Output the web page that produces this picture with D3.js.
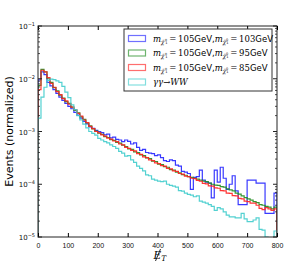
<!DOCTYPE html>
<html>
<head>
<meta charset="utf-8">
<script src="https://cdn.jsdelivr.net/npm/d3@7"></script>
<style>
  body { margin: 0; background: #fff; }
  svg { display: block; }
</style>
</head>
<body>
<div id="chart"></div>
<script>
// bin width 10 GeV, 0..800
const binWidth = 10;

const mass103 = [9.5e-3, 1.35e-2, 1.2e-2, 8.5e-3, 7.3e-3, 6.2e-3, 5.3e-3, 4.5e-3, 3.9e-3, 3.4e-3,
  3.0e-3, 2.7e-3, 2.3e-3, 2.05e-3, 1.8e-3, 1.55e-3, 1.4e-3, 1.22e-3, 1.15e-3, 1.05e-3,
  1.0e-3, 9.5e-4, 8.6e-4, 8.9e-4, 7.6e-4, 7.8e-4, 7.1e-4, 6.9e-4, 6.4e-4, 6.9e-4,
  6.5e-4, 5.8e-4, 6.1e-4, 5.0e-4, 4.4e-4, 4.6e-4, 4.0e-4, 3.9e-4, 3.8e-4, 3.5e-4,
  3.6e-4, 3.2e-4, 2.8e-4, 2.7e-4, 2.9e-4, 2.8e-4, 2.3e-4, 2.2e-4, 1.75e-4, 1.7e-4,
  1.6e-4, 8.0e-5, 1.35e-4, 1.4e-4, 1.85e-4, 1.2e-4, 1.1e-4, 1.05e-4, 5.5e-5, 1.85e-4,
  1.1e-4, 2.1e-4, 1.3e-4, 8.0e-5, 1.0e-4, 1.45e-4, 7.5e-5, 4.1e-5, 4.1e-5, 4.1e-5,
  1.2e-4, 1.2e-4, 1.2e-4, 1.05e-4, 1.05e-4, 1.05e-4, 2.8e-5, 2.8e-5, 2.8e-5, 6.8e-5];

const mass95 = [7.5e-3, 1.5e-2, 1.35e-2, 1.0e-2, 8.5e-3, 6.8e-3, 5.9e-3, 4.9e-3, 4.3e-3, 3.7e-3,
  3.4e-3, 2.9e-3, 2.5e-3, 2.25e-3, 1.9e-3, 1.7e-3, 1.45e-3, 1.28e-3, 1.12e-3, 1.02e-3,
  9.3e-4, 8.8e-4, 8.0e-4, 7.7e-4, 7.0e-4, 6.8e-4, 6.2e-4, 6.0e-4, 5.5e-4, 5.2e-4,
  4.7e-4, 4.6e-4, 4.1e-4, 4.0e-4, 3.6e-4, 3.5e-4, 3.15e-4, 3.05e-4, 2.75e-4, 2.7e-4,
  2.4e-4, 2.35e-4, 2.15e-4, 2.1e-4, 1.9e-4, 1.85e-4, 1.7e-4, 1.65e-4, 1.52e-4, 1.48e-4,
  1.4e-4, 1.35e-4, 1.3e-4, 1.25e-4, 1.2e-4, 1.15e-4, 1.12e-4, 1.05e-4, 1.0e-4, 9.6e-5,
  9.5e-5, 9.0e-5, 8.8e-5, 8.2e-5, 7.8e-5, 7.5e-5, 6.8e-5, 6.5e-5, 6.0e-5, 5.6e-5,
  5.3e-5, 5.0e-5, 4.7e-5, 4.5e-5, 4.1e-5, 4.0e-5, 3.8e-5, 3.7e-5, 3.4e-5, 3.7e-5];

const mass85 = [6.2e-3, 1.45e-2, 1.35e-2, 1.05e-2, 8.2e-3, 6.9e-3, 5.7e-3, 5.0e-3, 4.2e-3, 3.8e-3,
  3.3e-3, 2.9e-3, 2.6e-3, 2.2e-3, 1.95e-3, 1.65e-3, 1.47e-3, 1.25e-3, 1.13e-3, 1.0e-3,
  9.4e-4, 8.6e-4, 8.2e-4, 7.5e-4, 7.2e-4, 6.6e-4, 6.4e-4, 5.8e-4, 5.6e-4, 5.0e-4,
  4.8e-4, 4.4e-4, 4.3e-4, 3.8e-4, 3.7e-4, 3.3e-4, 3.2e-4, 2.9e-4, 2.8e-4, 2.55e-4,
  2.45e-4, 2.25e-4, 2.2e-4, 2.0e-4, 1.95e-4, 1.8e-4, 1.75e-4, 1.6e-4, 1.55e-4, 1.42e-4,
  1.4e-4, 1.3e-4, 1.28e-4, 1.18e-4, 1.14e-4, 1.04e-4, 1.02e-4, 9.3e-5, 9.2e-5, 8.5e-5,
  8.4e-5, 7.6e-5, 7.5e-5, 6.8e-5, 6.7e-5, 6.1e-5, 6.0e-5, 5.4e-5, 5.3e-5, 4.8e-5,
  4.7e-5, 4.4e-5, 4.4e-5, 4.0e-5, 3.5e-5, 3.3e-5, 3.6e-5, 3.4e-5, 3.2e-5, 3.4e-5];

const ggWW = [1.8e-3, 4.5e-3, 6.9e-3, 9.3e-3, 9.8e-3, 9.6e-3, 9.1e-3, 8.5e-3, 7.2e-3, 5.6e-3,
  4.4e-3, 3.2e-3, 2.6e-3, 2.0e-3, 1.66e-3, 1.38e-3, 1.17e-3, 1.0e-3, 9.2e-4, 8.5e-4,
  7.4e-4, 6.9e-4, 6.4e-4, 6.1e-4, 5.6e-4, 5.2e-4, 4.8e-4, 4.2e-4, 3.9e-4, 3.4e-4,
  3.5e-4, 2.9e-4, 2.6e-4, 2.2e-4, 2.0e-4, 1.8e-4, 1.5e-4, 1.45e-4, 1.25e-4, 1.2e-4,
  1.15e-4, 1.12e-4, 1.15e-4, 1.0e-4, 9.5e-5, 9.2e-5, 8.8e-5, 7.6e-5, 7.4e-5, 6.8e-5,
  6.4e-5, 6.2e-5, 5.8e-5, 6.0e-5, 4.8e-5, 4.6e-5, 4.4e-5, 4.1e-5, 3.8e-5, 3.2e-5,
  3.6e-5, 3.4e-5, 3.0e-5, 2.6e-5, 2.4e-5, 2.4e-5, 2.3e-5, 2.3e-5, 2.8e-5, 2.2e-5,
  1.95e-5, 1.95e-5, 2.1e-5, 2.3e-5, 1.4e-5, 1.35e-5, 1.0e-5, 0.8e-5, 0.8e-5, 1.3e-5];

const seriesColors = ["#2323ff", "#1e8c1e", "#ff2020", "#40cccc"];
const legendMasses = ["103", "95", "85"];
const xTicks = [0, 100, 200, 300, 400, 500, 600, 700, 800];
const yExponents = [-5, -4, -3, -2, -1];

const margin = { top: 26, right: 31, bottom: 27, left: 38 },
    width = 308 - margin.left - margin.right,
    height = 264 - margin.top - margin.bottom;

const svg = d3.select("#chart")
    .append("svg")
    .attr("width", 308)
    .attr("height", 264)
    .style("font-family", "'DejaVu Sans', sans-serif");

const g = svg.append("g")
    .attr("transform", `translate(${margin.left}, ${margin.top})`);

const x = d3.scaleLinear().domain([0, 800]).range([0, width]);
const y = d3.scaleLog().domain([1e-5, 1e-1]).range([height, 0]);

g.append("defs").append("clipPath").attr("id", "clip")
    .append("rect").attr("width", width).attr("height", height);

// histograms as step outlines
const line = d3.line()
    .x(d => x(d[0]))
    .y(d => y(Math.max(d[1], 1e-6)))
    .curve(d3.curveStepAfter);

const allSeries = [mass103, mass95, mass85, ggWW];
const plotG = g.append("g").attr("clip-path", "url(#clip)");

allSeries.forEach((vals, i) => {
    const pts = [[0, 1e-6]];
    vals.forEach((v, k) => pts.push([k * binWidth, v]));
    pts.push([vals.length * binWidth, vals[vals.length - 1]]);
    pts.push([vals.length * binWidth, 1e-6]);
    plotG.append("path")
        .attr("d", line(pts))
        .attr("fill", "none")
        .attr("stroke", seriesColors[i])
        .attr("stroke-width", 1.2)
        .attr("stroke-opacity", 0.9);
});

// frame
g.append("rect")
    .attr("width", width).attr("height", height)
    .attr("fill", "none").attr("stroke", "#222").attr("stroke-width", 1);

// x ticks (inward, bottom and top)
const xAxisB = d3.axisBottom(x).tickValues(xTicks).tickSize(-4).tickPadding(6).tickFormat(d3.format("d"));
const xg = g.append("g").attr("transform", `translate(0, ${height})`).call(xAxisB);
xg.select(".domain").remove();
xg.selectAll("text").style("font-size", "7px").attr("fill", "#111");
const xAxisT = d3.axisTop(x).tickValues(xTicks).tickSize(-4).tickFormat("");
const xgt = g.append("g").call(xAxisT);
xgt.select(".domain").remove();

// y ticks, major and minor, left and right
const minor = [];
yExponents.slice(0, -1).forEach(e => {
    for (let m = 2; m <= 9; m++) minor.push(m * Math.pow(10, e));
});
const majors = yExponents.map(e => Math.pow(10, e));

[[0, 1], [width, -1]].forEach(([xx, dir]) => {
    majors.forEach(v => {
        g.append("line").attr("x1", xx).attr("x2", xx + dir * 4)
            .attr("y1", y(v)).attr("y2", y(v)).attr("stroke", "#222");
    });
    minor.forEach(v => {
        g.append("line").attr("x1", xx).attr("x2", xx + dir * 2)
            .attr("y1", y(v)).attr("y2", y(v)).attr("stroke", "#222").attr("stroke-width", 0.8);
    });
});

yExponents.forEach(e => {
    const t = g.append("text")
        .attr("x", -3).attr("y", y(Math.pow(10, e)) + 3)
        .attr("text-anchor", "end")
        .style("font-size", "7px").attr("fill", "#111");
    t.append("tspan").text("10");
    t.append("tspan").attr("dy", -3).style("font-size", "5px").text("\u2212" + Math.abs(e));
});

// axis titles
svg.append("text")
    .attr("transform", `translate(13, ${margin.top + height / 2}) rotate(-90)`)
    .attr("text-anchor", "middle")
    .style("font-size", "11px")
    .text("Events (normalized)");

// missing transverse energy label: E with a slash, subscript T
const xlx = margin.left + width / 2 - 4;
const xl = svg.append("text")
    .attr("x", xlx).attr("y", 258.5)
    .style("font-family", "'DejaVu Serif', serif")
    .style("font-style", "italic")
    .style("font-size", "10.5px");
xl.append("tspan").text("E");
xl.append("tspan").attr("dy", 2).style("font-size", "7.5px").text("T");
svg.append("line")
    .attr("x1", xlx + 2).attr("y1", 261)
    .attr("x2", xlx + 7).attr("y2", 249)
    .attr("stroke", "#111").attr("stroke-width", 0.9);

// legend
const legend = svg.append("g").attr("transform", "translate(124, 29)");
legend.append("rect")
    .attr("width", 148).attr("height", 62)
    .attr("fill", "#fff").attr("stroke", "#333").attr("stroke-width", 1);

seriesColors.forEach((c, i) => {
    const ly = 9.5 + i * 14.5;
    legend.append("rect")
        .attr("x", 4.5).attr("y", ly - 3).attr("width", 17).attr("height", 6)
        .attr("fill", "none").attr("stroke", c).attr("stroke-width", 1.2)
        .attr("stroke-opacity", 0.65);
    const t = legend.append("text").attr("x", 29).attr("y", ly + 3)
        .style("font-size", "8.5px");
    if (i === 3) {
        t.append("tspan").style("font-family", "'DejaVu Serif', serif").style("font-style", "italic")
            .text("\u03b3\u03b3\u2192WW");
        return;
    }
    const mathLabel = (sup) => {
        t.append("tspan").style("font-family", "'DejaVu Serif', serif").style("font-style", "italic").text("m");
        t.append("tspan").attr("dy", 2).style("font-size", "5.5px")
            .style("font-family", "'DejaVu Serif', serif").style("font-style", "italic").text("\u03c7\u0303");
        t.append("tspan").attr("dy", -3).style("font-size", "3.5px").text(sup);
        t.append("tspan").attr("dx", -2).attr("dy", 3).style("font-size", "3.5px").text("1");
        t.append("tspan").attr("dy", -2).style("font-family", "'DejaVu Serif', serif").text("\u2009=\u2009");
    };
    mathLabel("\u00b1");
    t.append("tspan").style("font-family", "'DejaVu Serif', serif").text("105");
    t.append("tspan").text("GeV,");
    mathLabel("0");
    t.append("tspan").style("font-family", "'DejaVu Serif', serif").text(legendMasses[i]);
    t.append("tspan").text("GeV");
});
</script>
</body>
</html>
